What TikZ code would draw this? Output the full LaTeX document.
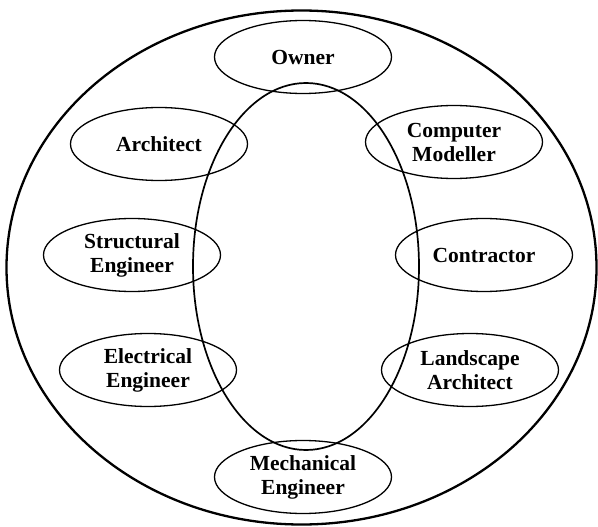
\documentclass[tikz,border=0pt]{standalone}
\usepackage{fontspec}
\setmainfont{Liberation Serif}
\usetikzlibrary{shapes.geometric}
\begin{document}
\begin{tikzpicture}[x=1pt,y=-1pt,
  role/.style={ellipse, draw=black, line width=1.3pt, inner sep=0pt,
    minimum width=177pt, minimum height=73pt, align=center,
    font=\fontsize{21.5}{24}\selectfont\bfseries}]
\useasboundingbox (0,0) rectangle (598,527);
% outer circle and inner ellipse
\draw[line width=2.3pt] (301.5,267.5) ellipse [x radius=295pt, y radius=257pt];
\draw[line width=1.7pt] (306,266.5) ellipse [x radius=113pt, y radius=183.5pt];
% roles
\node[role] (owner) at (303,57) {Owner};
\node[role] (arch) at (159,144) {Architect};
\node[role] (comp) at (454,142) {Computer\\Modeller};
\node[role] (struct) at (132,255) {Structural\\Engineer};
\node[role] (contr) at (484,255) {Contractor};
\node[role] (elec) at (148,370) {Electrical\\Engineer};
\node[role] (land) at (470,370) {Landscape\\Architect};
\node[role] (mech) at (303,477) {Mechanical\\Engineer};
\end{tikzpicture}
\end{document}
